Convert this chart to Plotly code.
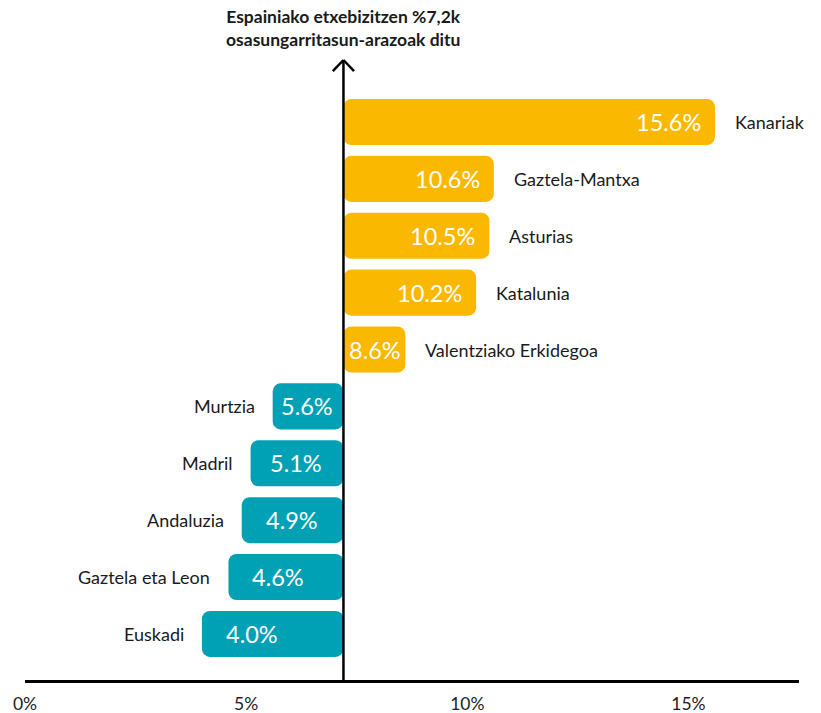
import plotly.graph_objects as go

regions = ["Kanariak", "Gaztela-Mantxa", "Asturias", "Katalunia", "Valentziako Erkidegoa",
           "Murtzia", "Madril", "Andaluzia", "Gaztela eta Leon", "Euskadi"]
values = [15.6, 10.6, 10.5, 10.2, 8.6, 5.6, 5.1, 4.9, 4.6, 4.0]
spain_avg = 7.2
tick_vals = [0, 5, 10, 15]
tick_text = ["0%", "5%", "10%", "15%"]
title_text = "Espainiako etxebizitzen %7,2k<br>osasungarritasun-arazoak ditu"

ORANGE = "#FBB800"
TEAL = "#00A1B5"
FONT = "Lato, 'Open Sans', sans-serif"

X_MAX = 17.5
L_MARGIN, R_MARGIN = 25, 22
W = 821
px_per_unit = (W - L_MARGIN - R_MARGIN) / X_MAX
LABEL_W = 58  # approx. pixel width of a value label box

colors = [ORANGE if v > spain_avg else TEAL for v in values]

fig = go.Figure()
fig.add_trace(go.Bar(
    y=regions,
    x=[v - spain_avg for v in values],
    base=spain_avg,
    orientation="h",
    marker=dict(color=colors, cornerradius=8, line=dict(width=0)),
    hoverinfo="skip",
))

for r, v in zip(regions, values):
    above = v > spain_avg
    bar_px = abs(v - spain_avg) * px_per_unit
    # category name outside the bar
    fig.add_annotation(
        x=v, y=r, xref="x", yref="y",
        text=r, showarrow=False,
        xanchor="left" if above else "right",
        xshift=18 if above else -16,
        font=dict(size=18, color="#1a1a1a", family=FONT),
    )
    # value label inside the bar, near its outer end
    pad = min(12 if above else 22, max(1, (bar_px - LABEL_W) / 2))
    fig.add_annotation(
        x=v, y=r, xref="x", yref="y",
        text=f"{v:.1f}%", showarrow=False,
        xanchor="right" if above else "left",
        xshift=-pad if above else pad,
        font=dict(size=23.5, color="white", family=FONT),
    )

# vertical axis at the Spanish average with an arrow head
fig.add_shape(type="line", xref="x", yref="paper", x0=spain_avg, x1=spain_avg, y0=0, y1=1,
              line=dict(color="black", width=2.5))
fig.add_shape(type="line", xref="x", yref="paper", x0=spain_avg - 0.24, x1=spain_avg, y0=1 - 0.018, y1=1,
              line=dict(color="black", width=2.5))
fig.add_shape(type="line", xref="x", yref="paper", x0=spain_avg + 0.24, x1=spain_avg, y0=1 - 0.018, y1=1,
              line=dict(color="black", width=2.5))

fig.add_annotation(
    x=spain_avg, xref="x", y=1, yref="paper", yanchor="bottom", yshift=8,
    text="<b>" + title_text + "</b>", showarrow=False, align="center",
    font=dict(size=17.5, color="#1a1a1a", family=FONT),
)

n = len(regions)
fig.update_layout(
    width=W, height=713,
    margin=dict(l=L_MARGIN, r=R_MARGIN, t=60, b=33),
    paper_bgcolor="white", plot_bgcolor="white",
    bargap=0.19,
    showlegend=False,
    xaxis=dict(range=[0, X_MAX], tickvals=tick_vals, ticktext=tick_text,
               showgrid=False, zeroline=False, showline=True, linecolor="black", linewidth=2.5,
               ticks="", ticklabelstandoff=6,
               tickfont=dict(size=17.5, color="#222", family=FONT), fixedrange=True,
               automargin=False),
    yaxis=dict(type="category", categoryorder="array", categoryarray=regions,
               range=[n - 1 + 0.81, -1.09], showticklabels=False, showgrid=False,
               zeroline=False, fixedrange=True),
)

fig.write_html("out.html", post_script="document.body.style.margin='0';",
               config={"displayModeBar": False})
